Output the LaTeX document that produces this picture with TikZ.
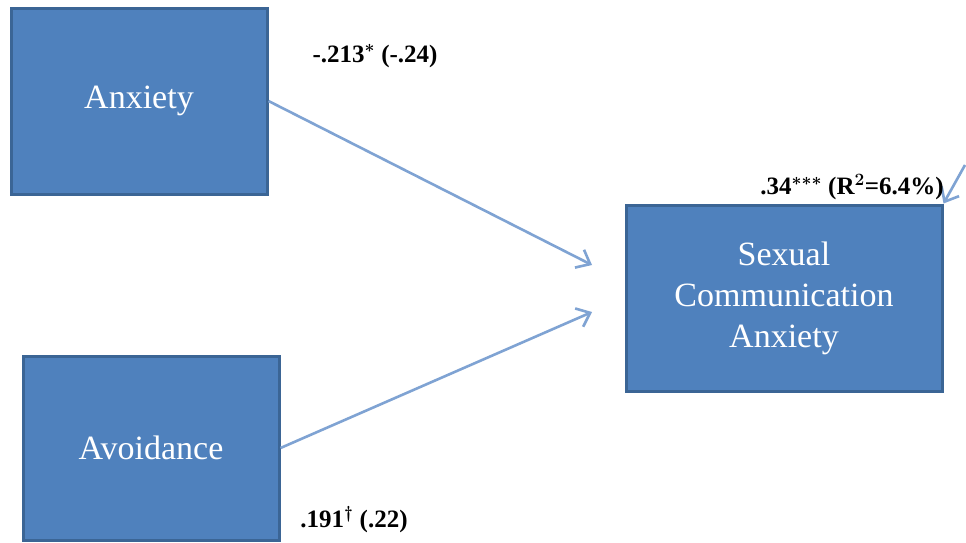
\documentclass[tikz,border=0pt]{standalone}
\usepackage{fontspec}
\setmainfont{Liberation Serif}
\usetikzlibrary{arrows.meta}
\definecolor{boxblue}{HTML}{4F81BD}
\definecolor{boxedge}{HTML}{3B6595}
\definecolor{arrowblue}{HTML}{7FA3D3}

\begin{document}
\begin{tikzpicture}[x=1pt,y=-1pt,
        varbox/.style={rectangle,fill=boxblue,draw=boxedge,line width=3pt,
            text=white,align=center,font=\fontsize{34}{41}\selectfont},
        path/.style={draw=arrowblue,line width=2.6pt,
            -{Straight Barb[length=12pt,width=20pt,line width=2.6pt]}},
        coef/.style={font=\fontsize{25}{29}\selectfont\bfseries\boldmath}]
        \useasboundingbox[fill=white] (0,0) rectangle (966,542);

        \coordinate (in1) at (592,265);
        \coordinate (in2) at (592,312);
        \coordinate (err) at (965,165);

        \node[varbox,minimum width=256pt,minimum height=186pt] (anx) at (139,101) {Anxiety};
        \node[varbox,minimum width=256pt,minimum height=184pt] (avo) at (151,448) {Avoidance};
        \node[varbox,minimum width=316pt,minimum height=186pt] (sca) at (784,298)
            {Sexual\\Communication\\Anxiety};

        \draw[path] (anx.east) -- (in1);
        \draw[path] (avo.east) -- (in2);
        \draw[path] (err) -- (sca.north east);

        \node[coef] (b1) at (375,56) {-.213$^{*}$ (-.24)};
        \node[coef] (b2) at (354,520) {.191$^{\dagger}$ (.22)};
        \node[coef] (r2) at (852,187) {.34$^{***}$ (R$^{2}$=6.4\%)};
    \end{tikzpicture}
\end{document}
